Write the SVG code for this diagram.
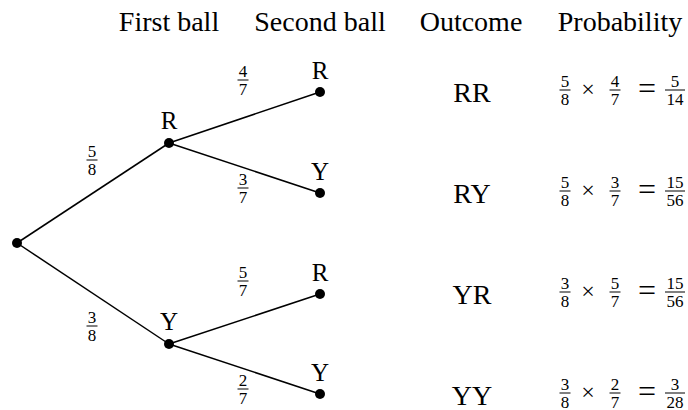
<svg xmlns="http://www.w3.org/2000/svg" width="688" height="410" viewBox="0 0 688 410" font-family="'Liberation Serif', 'DejaVu Serif', serif">
<style>
text{font-family:'Liberation Serif','DejaVu Serif',serif;fill:#000;text-anchor:middle}
.hdr{font-size:28px}
.lbl{font-size:25px}
.out{font-size:28px}
.fr{font-size:17px}
.op{font-size:24px}
.eq{font-size:32px}
.bar{stroke:#000;stroke-width:1}
.edge{stroke:#000;stroke-width:1.5;fill:none}
.dot{fill:#000}
</style>
<rect width="688" height="410" fill="#fff"/>
<g id="headers">
<text class="hdr" x="169" y="31">First ball</text>
<text class="hdr" x="320" y="31">Second ball</text>
<text class="hdr" x="471" y="31">Outcome</text>
<text class="hdr" x="620" y="31">Probability</text>
</g>
<g id="connectors">
<line class="edge" x1="17" y1="243" x2="169" y2="143"/>
<line class="edge" x1="17" y1="243" x2="169" y2="344"/>
<line class="edge" x1="169" y1="143" x2="320" y2="92"/>
<line class="edge" x1="169" y1="143" x2="320" y2="193"/>
<line class="edge" x1="169" y1="344" x2="320" y2="294"/>
<line class="edge" x1="169" y1="344" x2="320" y2="394"/>
<g id="edge-labels">
<text class="fr" x="92" y="156.5">5</text><line class="bar" x1="86.5" y1="160" x2="97.5" y2="160"/><text class="fr" x="92" y="174.5">8</text>
<text class="fr" x="92" y="322.5">3</text><line class="bar" x1="86.5" y1="326" x2="97.5" y2="326"/><text class="fr" x="92" y="340.5">8</text>
<text class="fr" x="243" y="76.5">4</text><line class="bar" x1="237.5" y1="80" x2="248.5" y2="80"/><text class="fr" x="243" y="94.5">7</text>
<text class="fr" x="243" y="184.5">3</text><line class="bar" x1="237.5" y1="188" x2="248.5" y2="188"/><text class="fr" x="243" y="202.5">7</text>
<text class="fr" x="243" y="277.5">5</text><line class="bar" x1="237.5" y1="281" x2="248.5" y2="281"/><text class="fr" x="243" y="295.5">7</text>
<text class="fr" x="243" y="385.5">2</text><line class="bar" x1="237.5" y1="389" x2="248.5" y2="389"/><text class="fr" x="243" y="403.5">7</text>
</g>
</g>
<g id="root"><circle class="dot" cx="17" cy="243" r="5"/></g>
<g id="node-R"><circle class="dot" cx="169" cy="143" r="5"/><text class="lbl" x="169" y="129">R</text></g>
<g id="node-Y"><circle class="dot" cx="169" cy="344" r="5"/><text class="lbl" x="169" y="330">Y</text></g>
<g id="leaf-RR"><circle class="dot" cx="320" cy="92" r="5"/><text class="lbl" x="320" y="79">R</text></g>
<g id="leaf-RY"><circle class="dot" cx="320" cy="193" r="5"/><text class="lbl" x="320" y="180">Y</text></g>
<g id="leaf-YR"><circle class="dot" cx="320" cy="294" r="5"/><text class="lbl" x="320" y="281">R</text></g>
<g id="leaf-YY"><circle class="dot" cx="320" cy="394" r="5"/><text class="lbl" x="320" y="381">Y</text></g>
<g id="outcomes">
<text class="out" x="472" y="102">RR</text>
<text class="out" x="472" y="203">RY</text>
<text class="out" x="472" y="304">YR</text>
<text class="out" x="472" y="405">YY</text>
</g>
<g id="prob-RR">
<text class="fr" x="565" y="86.5">5</text><line class="bar" x1="559.5" y1="90" x2="570.5" y2="90"/><text class="fr" x="565" y="104.5">8</text>
<text class="op" x="588" y="97">×</text>
<text class="fr" x="615" y="86.5">4</text><line class="bar" x1="609.5" y1="90" x2="620.5" y2="90"/><text class="fr" x="615" y="104.5">7</text>
<text class="eq" x="647" y="99">=</text>
<text class="fr" x="675" y="86.5">5</text><line class="bar" x1="665" y1="90" x2="685" y2="90"/><text class="fr" x="675" y="104.5">14</text>
</g>
<g id="prob-RY">
<text class="fr" x="565" y="187.5">5</text><line class="bar" x1="559.5" y1="191" x2="570.5" y2="191"/><text class="fr" x="565" y="205.5">8</text>
<text class="op" x="588" y="198">×</text>
<text class="fr" x="615" y="187.5">3</text><line class="bar" x1="609.5" y1="191" x2="620.5" y2="191"/><text class="fr" x="615" y="205.5">7</text>
<text class="eq" x="647" y="200">=</text>
<text class="fr" x="675" y="187.5">15</text><line class="bar" x1="665" y1="191" x2="685" y2="191"/><text class="fr" x="675" y="205.5">56</text>
</g>
<g id="prob-YR">
<text class="fr" x="565" y="288.5">3</text><line class="bar" x1="559.5" y1="292" x2="570.5" y2="292"/><text class="fr" x="565" y="306.5">8</text>
<text class="op" x="588" y="299">×</text>
<text class="fr" x="615" y="288.5">5</text><line class="bar" x1="609.5" y1="292" x2="620.5" y2="292"/><text class="fr" x="615" y="306.5">7</text>
<text class="eq" x="647" y="301">=</text>
<text class="fr" x="675" y="288.5">15</text><line class="bar" x1="665" y1="292" x2="685" y2="292"/><text class="fr" x="675" y="306.5">56</text>
</g>
<g id="prob-YY">
<text class="fr" x="565" y="389.5">3</text><line class="bar" x1="559.5" y1="393" x2="570.5" y2="393"/><text class="fr" x="565" y="407.5">8</text>
<text class="op" x="588" y="400">×</text>
<text class="fr" x="615" y="389.5">2</text><line class="bar" x1="609.5" y1="393" x2="620.5" y2="393"/><text class="fr" x="615" y="407.5">7</text>
<text class="eq" x="647" y="402">=</text>
<text class="fr" x="675" y="389.5">3</text><line class="bar" x1="665" y1="393" x2="685" y2="393"/><text class="fr" x="675" y="407.5">28</text>
</g>
</svg>
